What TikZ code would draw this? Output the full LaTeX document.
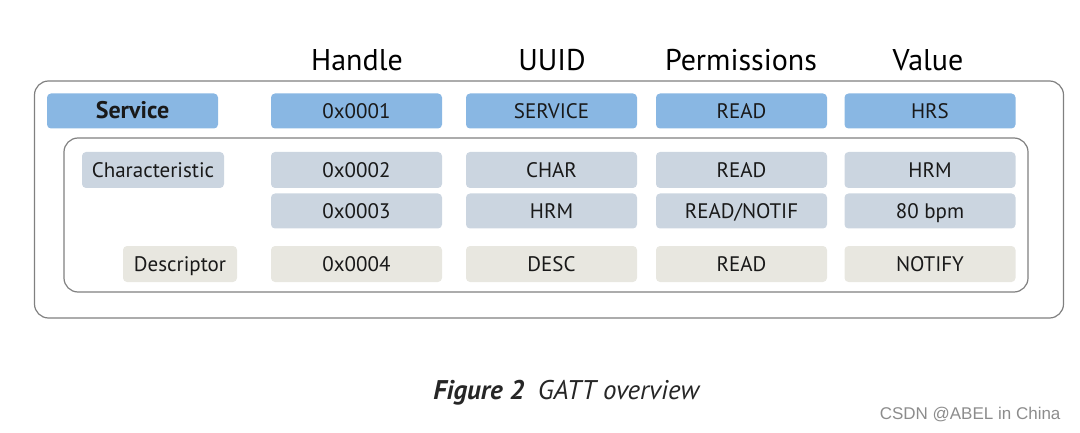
\documentclass[tikz,border=0pt]{standalone}
\usepackage{fontspec}
\setmainfont{PT Sans}
\newfontfamily\wmfont{Liberation Sans}
\definecolor{svcblue}{RGB}{137,183,227}
\definecolor{chargray}{RGB}{203,213,224}
\definecolor{descbeige}{RGB}{232,231,224}
\definecolor{framegray}{RGB}{128,128,128}
\begin{document}
\begin{tikzpicture}[x=1pt,y=-1pt,
  cell/.style={rounded corners=4pt, inner sep=0pt, minimum width=171pt, font=\fontsize{21}{24}\selectfont, text=black!90, text height=15pt, text depth=0pt},
  svc/.style={cell, fill=svcblue, minimum height=35pt},
  chr/.style={cell, fill=chargray, minimum height=36pt},
  dsc/.style={cell, fill=descbeige, minimum height=36pt},
  frame/.style={draw=framegray, line width=1.2pt, rounded corners=14pt, inner sep=0pt},
  header/.style={font=\fontsize{30}{34}\selectfont, text=black}
]
\useasboundingbox (0,0) rectangle (1080,433);
% frames
\node[frame, minimum width=1029pt, minimum height=237pt] (outer) at (549,199.5) {};
\node[frame, minimum width=964pt, minimum height=154pt] (inner) at (546,215) {};
% headers
\node[header] (hHandle) at (357,60) {Handle};
\node[header] (hUUID) at (552,60) {UUID};
\node[header] (hPerm) at (741,60) {Permissions};
\node[header] (hValue) at (928,60) {Value};
% service row
\node[svc, font=\fontsize{24}{28}\selectfont\bfseries, text height=16pt] (service) at (132.5,111) {Service};
\node[svc] (s1) at (356.5,111) {0x0001};
\node[svc] (s2) at (551.5,111) {SERVICE};
\node[svc] (s3) at (741.5,111) {READ};
\node[svc] (s4) at (930,111) {HRS};
% characteristic rows
\node[chr, minimum width=142pt] (char) at (153,170) {Characteristic};
\node[chr] (c1) at (356.5,170) {0x0002};
\node[chr] (c2) at (551.5,170) {CHAR};
\node[chr] (c3) at (741.5,170) {READ};
\node[chr] (c4) at (930,170) {HRM};
\node[chr, minimum height=35pt] (v1) at (356.5,211) {0x0003};
\node[chr, minimum height=35pt] (v2) at (551.5,211) {HRM};
\node[chr, minimum height=35pt] (v3) at (741.5,211) {READ/NOTIF};
\node[chr, minimum height=35pt] (v4) at (930,211) {80 bpm};
% descriptor row
\node[dsc, minimum width=114pt] (desc) at (180,264) {Descriptor};
\node[dsc] (d1) at (356.5,264) {0x0004};
\node[dsc] (d2) at (551.5,264) {DESC};
\node[dsc] (d3) at (741.5,264) {READ};
\node[dsc] (d4) at (930,264) {NOTIFY};
% caption
\node[font=\fontsize{27}{30}\selectfont, text=black!85] (caption) at (567,393) {\textbf{\textit{Figure 2}}\enspace\textit{GATT overview}};
\node[font=\wmfont\fontsize{17}{20}\selectfont, text=black!45, anchor=east] (wm) at (1064,415) {CSDN @ABEL in China};
\end{tikzpicture}
\end{document}
